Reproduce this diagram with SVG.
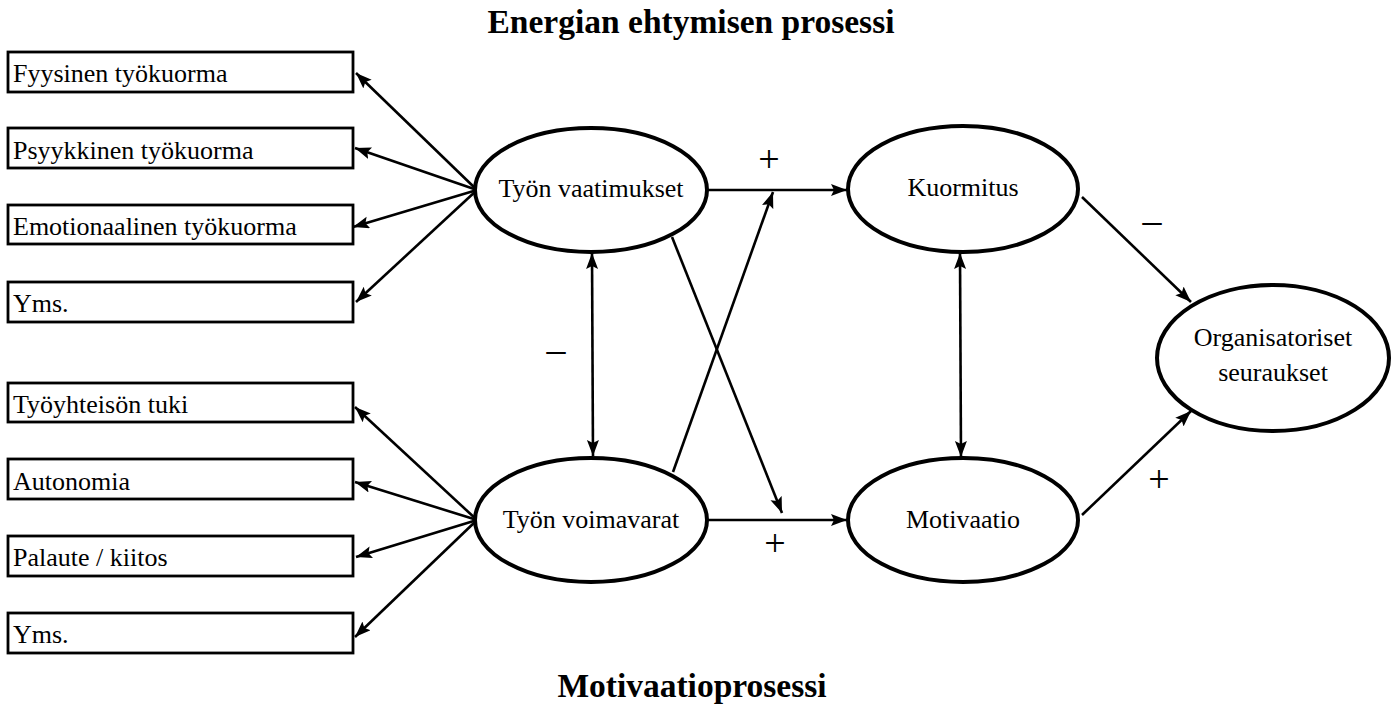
<svg xmlns="http://www.w3.org/2000/svg" width="1398" height="707" viewBox="0 0 1398 707">
<style>
.box{fill:#fff;stroke:#000;stroke-width:2.8}
.ell{fill:#fff;stroke:#000;stroke-width:4}
.t{font-family:"Liberation Serif","Times New Roman",serif;font-size:26px;fill:#000}
.te{font-family:"Liberation Serif","Times New Roman",serif;font-size:26px;fill:#000;text-anchor:middle}
.title{font-family:"Liberation Serif","Times New Roman",serif;font-size:33.5px;font-weight:bold;fill:#000;text-anchor:middle}
.sign{font-family:"Liberation Serif","Times New Roman",serif;font-size:38px;fill:#000;text-anchor:middle}
.c{stroke:#000;stroke-width:2.6;fill:none}
.a{marker-end:url(#ah)}
.d{marker-start:url(#ah);marker-end:url(#ah)}
</style>
<defs>
<marker id="ah" markerUnits="userSpaceOnUse" markerWidth="17" markerHeight="13" refX="16" refY="6" orient="auto-start-reverse" viewBox="0 0 17 13">
<path d="M0,0 L16,6 L0,12 L3,6 z" fill="#000"/>
</marker>
</defs>
<rect width="1398" height="707" fill="#fff"/>
<text class="title" x="691" y="33">Energian ehtymisen prosessi</text>
<text class="title" x="692" y="697">Motivaatioprosessi</text>
<g id="connectors">
<line class="c a" x1="477" y1="190" x2="356" y2="73"/>
<line class="c a" x1="477" y1="190" x2="355" y2="148"/>
<line class="c a" x1="477" y1="190" x2="353" y2="227"/>
<line class="c a" x1="477" y1="190" x2="356" y2="302"/>
<line class="c a" x1="477" y1="520" x2="355" y2="407"/>
<line class="c a" x1="477" y1="520" x2="355" y2="482"/>
<line class="c a" x1="477" y1="520" x2="356" y2="557"/>
<line class="c a" x1="477" y1="520" x2="355" y2="637"/>
<line class="c a" x1="707" y1="190" x2="847" y2="190"/>
<line class="c a" x1="707" y1="520" x2="847" y2="520"/>
<line class="c a" x1="672" y1="237" x2="782" y2="513"/>
<line class="c a" x1="673" y1="472" x2="773" y2="192"/>
<line class="c d" x1="592" y1="253" x2="593" y2="456"/>
<line class="c d" x1="960" y1="253" x2="961" y2="457"/>
<line class="c a" x1="1082" y1="197" x2="1191" y2="302"/>
<line class="c a" x1="1082" y1="515" x2="1191" y2="411"/>
<text class="sign" x="769" y="172">+</text>
<text class="sign" x="775" y="556">+</text>
<text class="sign" x="556" y="362">–</text>
<text class="sign" x="1152" y="233">–</text>
<text class="sign" x="1159" y="492">+</text>
</g>
<g id="n1"><rect class="box" x="8" y="52" width="345" height="40"/><text class="t" x="13" y="82">Fyysinen työkuorma</text></g>
<g id="n2"><rect class="box" x="8" y="128" width="345" height="40"/><text class="t" x="13" y="159">Psyykkinen työkuorma</text></g>
<g id="n3"><rect class="box" x="8" y="205" width="345" height="39"/><text class="t" x="13" y="235">Emotionaalinen työkuorma</text></g>
<g id="n4"><rect class="box" x="8" y="282" width="345" height="40"/><text class="t" x="13" y="312">Yms.</text></g>
<g id="n5"><rect class="box" x="8" y="383" width="345" height="39"/><text class="t" x="13" y="413">Työyhteisön tuki</text></g>
<g id="n6"><rect class="box" x="8" y="459" width="345" height="40"/><text class="t" x="13" y="490">Autonomia</text></g>
<g id="n7"><rect class="box" x="8" y="536" width="345" height="40"/><text class="t" x="13" y="566">Palaute / kiitos</text></g>
<g id="n8"><rect class="box" x="8" y="613" width="345" height="40"/><text class="t" x="13" y="643">Yms.</text></g>
<g id="tyon-vaatimukset"><ellipse class="ell" cx="591" cy="190" rx="116" ry="62"/><text class="te" x="591" y="197">Työn vaatimukset</text></g>
<g id="tyon-voimavarat"><ellipse class="ell" cx="591" cy="520" rx="116" ry="62"/><text class="te" x="591" y="528">Työn voimavarat</text></g>
<g id="kuormitus"><ellipse class="ell" cx="963" cy="189" rx="115" ry="63"/><text class="te" x="963" y="196">Kuormitus</text></g>
<g id="motivaatio"><ellipse class="ell" cx="963" cy="520" rx="115" ry="62"/><text class="te" x="963" y="528">Motivaatio</text></g>
<g id="organisatoriset"><ellipse class="ell" cx="1273" cy="358" rx="116" ry="73"/><text class="te" x="1273" y="346">Organisatoriset</text><text class="te" x="1273" y="381">seuraukset</text></g>
</svg>
